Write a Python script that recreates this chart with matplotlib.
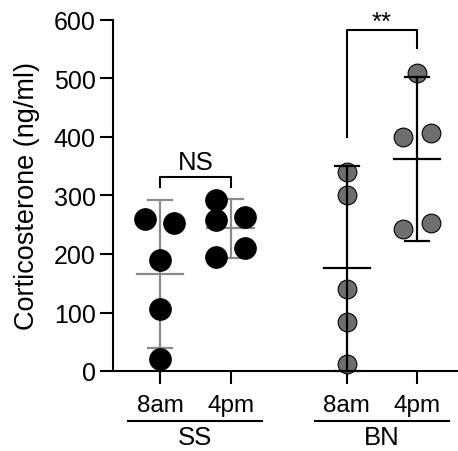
import matplotlib.pyplot as plt
import numpy as np

plt.rcParams['font.family'] = ['Liberation Sans', 'DejaVu Sans']

# x positions of the four groups
pos = [0.0, 1.0, 2.65, 3.65]
times = ["8am", "4pm", "8am", "4pm"]
strains = ["SS", "BN"]

# values (ng/ml), with small x jitter per point
ss_8am = [260, 253, 189, 106, 21]
ss_8am_dx = [-0.21, 0.2, 0, 0, 0]
ss_4pm = [292, 258, 264, 195, 210]
ss_4pm_dx = [-0.21, -0.21, 0.21, -0.21, 0.21]
bn_8am = [341, 301, 140, 84, 12]
bn_8am_dx = [0, 0, 0, 0, 0]
bn_4pm = [510, 400, 407, 243, 253]
bn_4pm_dx = [0, -0.2, 0.2, -0.2, 0.2]

groups = [ss_8am, ss_4pm, bn_8am, bn_4pm]
jitter = [ss_8am_dx, ss_4pm_dx, bn_8am_dx, bn_4pm_dx]
face = ["black", "black", "#6e6e6e", "#6e6e6e"]
bar_col = ["#8a8a8a", "#8a8a8a", "black", "black"]
T_95 = 2.776  # t(0.975, df=4) -> bars are mean +/- 95% CI

fig = plt.figure(figsize=(4.58, 4.52), dpi=100)
ax = fig.add_axes([113/458, 1-372/452, 1-113/458, 351/452])

for i, (vals, dx) in enumerate(zip(groups, jitter)):
    x = pos[i] + np.array(dx)
    v = np.array(vals)
    m = v.mean()
    ci = T_95 * v.std(ddof=1) / np.sqrt(len(v))
    z_pts = 3 if i < 2 else 2
    z_bar = 2 if i < 2 else 3
    ax.scatter(x, v, s=15.5**2 if i < 2 else 13.5**2, c=face[i], edgecolors="black",
               linewidths=0.8, zorder=z_pts, clip_on=False)
    # mean and CI
    ax.plot([pos[i]-0.33, pos[i]+0.33], [m, m], color=bar_col[i], lw=1.6, zorder=z_bar)
    ax.plot([pos[i], pos[i]], [m-ci, m+ci], color=bar_col[i], lw=1.6, zorder=z_bar, clip_on=False)
    for yv in (m-ci, m+ci):
        ax.plot([pos[i]-0.17, pos[i]+0.17], [yv, yv], color=bar_col[i], lw=1.6,
                zorder=z_bar, clip_on=False)

# significance brackets
ax.plot([pos[0], pos[0], pos[1], pos[1]], [314, 331, 331, 314], color="black", lw=1.5, clip_on=False)
ax.text((pos[0]+pos[1])/2, 336, "NS", ha="center", va="bottom", fontsize=18.5)
ax.plot([pos[2], pos[2], pos[3], pos[3]], [400, 583, 583, 552], color="black", lw=1.5, clip_on=False)
ax.text((pos[2]+pos[3])/2, 576, "**", ha="center", va="bottom", fontsize=18.5)

ax.set_ylim(0, 600)
ax.set_xlim(-0.67, 4.23)
ax.set_yticks([0, 100, 200, 300, 400, 500, 600])
ax.set_xticks(pos)
ax.set_xticklabels(times)
ax.tick_params(width=1.5, length=9.5, pad=3)
ax.tick_params(axis="y", labelsize=18)
ax.tick_params(axis="x", labelsize=17.5, pad=7)
ax.set_ylabel("Corticosterone (ng/ml)", fontsize=19.5, labelpad=10)
for sp in ("top", "right"):
    ax.spines[sp].set_visible(False)
for sp in ("left", "bottom"):
    ax.spines[sp].set_linewidth(1.5)

# strain group labels under the time labels
tr = ax.get_xaxis_transform()
for k, name in enumerate(strains):
    a, b = pos[2*k], pos[2*k+1]
    ax.plot([a-0.45, b+0.45], [-0.143, -0.143], color="black", lw=1.5, transform=tr, clip_on=False)
    ax.text((a+b)/2, -0.153, name, ha="center", va="top", fontsize=18.5, transform=tr)

fig.savefig("out.png", dpi=100)
